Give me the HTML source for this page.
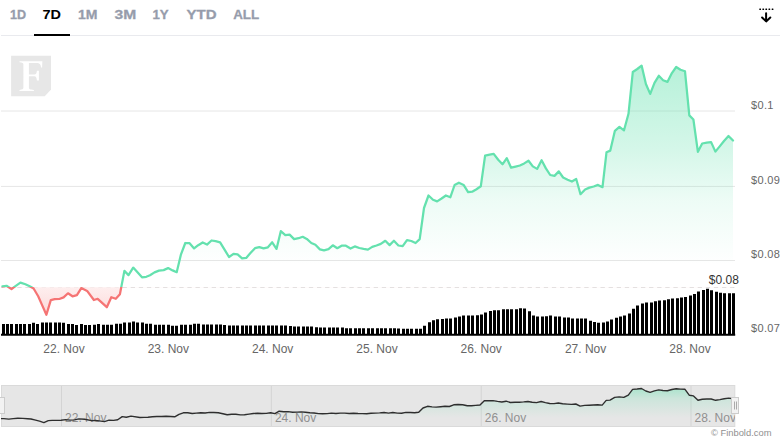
<!DOCTYPE html>
<html><head><meta charset="utf-8"><title>Chart</title>
<style>
html,body{margin:0;padding:0;background:#fff;}
body{width:780px;height:442px;overflow:hidden;position:relative;font-family:"Liberation Sans",sans-serif;}
svg{position:absolute;left:0;top:0;display:block}
svg text{font-family:"Liberation Sans",sans-serif;}
</style></head><body>
<svg width="780" height="442" viewBox="0 0 780 442">
<defs>
<linearGradient id="gg" gradientUnits="userSpaceOnUse" x1="0" y1="65" x2="0" y2="265">
<stop offset="0" stop-color="#64e1ae" stop-opacity="0.47"/><stop offset="0.425" stop-color="#64e1ae" stop-opacity="0.27"/><stop offset="0.675" stop-color="#64e1ae" stop-opacity="0.115"/><stop offset="1" stop-color="#64e1ae" stop-opacity="0"/></linearGradient>
<linearGradient id="rg" gradientUnits="userSpaceOnUse" x1="0" y1="287" x2="0" y2="315">
<stop offset="0" stop-color="#f57474" stop-opacity="0.12"/><stop offset="1" stop-color="#f57474" stop-opacity="0.27"/></linearGradient>
<linearGradient id="ng" gradientUnits="userSpaceOnUse" x1="0" y1="388" x2="0" y2="418">
<stop offset="0" stop-color="#64e1ae" stop-opacity="0.46"/><stop offset="0.35" stop-color="#64e1ae" stop-opacity="0.2"/><stop offset="1" stop-color="#64e1ae" stop-opacity="0"/></linearGradient>
<clipPath id="up"><rect x="0" y="36" width="736" height="251.3"/></clipPath>
<clipPath id="dn"><rect x="0" y="286.90000000000003" width="736" height="60"/></clipPath>
<clipPath id="nav"><rect x="1" y="386" width="734" height="40"/></clipPath>
</defs>
<!-- tabs -->
<path d="M1 35.5H780" stroke="#e9eaee" stroke-width="1"/>
<rect x="34" y="34" width="36" height="2" fill="#000"/>
<text x="9.9" y="19.4" textLength="16.1" lengthAdjust="spacingAndGlyphs" fill="#969cab" stroke="#969cab" stroke-width="0.3" font-weight="bold" font-size="13">1D</text><text x="42.5" y="19.4" textLength="18.5" lengthAdjust="spacingAndGlyphs" fill="#000" stroke="#000" stroke-width="0" font-weight="bold" font-size="13">7D</text><text x="78" y="19.4" textLength="19.5" lengthAdjust="spacingAndGlyphs" fill="#969cab" stroke="#969cab" stroke-width="0.3" font-weight="bold" font-size="13">1M</text><text x="114.6" y="19.4" textLength="21.7" lengthAdjust="spacingAndGlyphs" fill="#969cab" stroke="#969cab" stroke-width="0.3" font-weight="bold" font-size="13">3M</text><text x="152.4" y="19.4" textLength="16.2" lengthAdjust="spacingAndGlyphs" fill="#969cab" stroke="#969cab" stroke-width="0.3" font-weight="bold" font-size="13">1Y</text><text x="186.5" y="19.4" textLength="30.0" lengthAdjust="spacingAndGlyphs" fill="#969cab" stroke="#969cab" stroke-width="0.3" font-weight="bold" font-size="13">YTD</text><text x="233.2" y="19.4" textLength="26.0" lengthAdjust="spacingAndGlyphs" fill="#969cab" stroke="#969cab" stroke-width="0.3" font-weight="bold" font-size="13">ALL</text>
<!-- download icon -->
<g stroke="#000" stroke-width="2" fill="none" stroke-linecap="round" stroke-linejoin="round">
<path d="M766.1 13.2V21.2M762.1 17.5L766.1 21.4L770.3 17.5"/>
</g>
<g fill="#000"><rect x="759.3" y="8.4" width="1.7" height="1.7" rx="0.4"/><rect x="762.4" y="8.4" width="1.7" height="1.7" rx="0.4"/><rect x="765.4" y="8.4" width="1.7" height="1.7" rx="0.4"/><rect x="768.5" y="8.4" width="1.7" height="1.7" rx="0.4"/><rect x="771.7" y="8.4" width="1.7" height="1.7" rx="0.4"/></g>
<!-- watermark -->
<path d="M11.1 55.8H51V89.4L44.7 96.2H11.1Z" fill="#e7e7e7"/>
<path d="M19.5 61.2H42.35L42.1 67.5H41.1C40.6 64.6 39.8 63.2 37.8 63H28.9V74.5H34.3C36 74.5 36.6 73.4 36.9 70.7H38.9V80.4H36.9C36.6 77.5 36 76.3 34.3 76.2H28.9V87.5C28.9 89.1 30 89.6 33.9 89.9V91H19.5V89.9C22.5 89.6 23.4 89.1 23.4 87.5V64.6C23.4 63 22.5 62.6 19.5 62.3Z" fill="#fff"/>
<!-- grid -->
<path d="M1 111.0H735" stroke="#e6e6e6" stroke-width="1"/><path d="M1 186.4H735" stroke="#e6e6e6" stroke-width="1"/><path d="M1 260.5H735" stroke="#e6e6e6" stroke-width="1"/>
<!-- area -->
<path d="M1.1 287.5H735" stroke="#dadada" stroke-width="1" stroke-dasharray="4.3 3.8"/>
<g clip-path="url(#up)"><path d="M2.4 286.3 L6.5 285.8 L11.5 289.0 L15.8 285.8 L20.4 282.6 L25.4 284.3 L30.2 286.5 L33.6 288.5 L38.2 296.3 L42.0 304.9 L46.4 314.8 L50.8 300.1 L54.7 299.1 L59.3 299.0 L63.6 297.4 L68.0 293.3 L72.5 296.3 L76.9 295.2 L81.3 288.1 L87.1 290.9 L93.9 300.0 L97.7 298.8 L106.8 307.2 L111.3 297.2 L115.8 298.8 L119.9 294.3 L124.4 270.9 L128.5 275.1 L133.2 267.6 L142.0 277.3 L146.3 276.8 L150.0 275.3 L154.5 272.4 L159.0 270.6 L163.6 270.1 L168.1 268.1 L172.6 270.4 L176.7 272.2 L181.0 254.3 L185.3 243.0 L189.6 243.2 L194.1 248.4 L198.2 245.2 L202.7 242.5 L207.0 244.6 L211.5 240.5 L215.6 241.2 L220.1 242.3 L224.7 249.8 L229.0 257.0 L233.5 253.8 L237.6 254.3 L242.1 258.4 L246.2 257.9 L250.7 252.7 L255.0 248.2 L259.3 247.1 L263.6 248.4 L267.9 247.3 L272.2 242.3 L276.5 248.9 L280.8 231.2 L285.3 235.1 L289.6 234.6 L294.1 239.1 L298.6 238.2 L302.7 236.8 L306.8 238.9 L311.3 243.0 L315.4 244.8 L319.9 249.4 L324.0 250.3 L328.5 249.1 L332.8 245.3 L337.3 248.2 L341.6 245.7 L345.9 245.7 L350.5 248.5 L354.8 246.4 L359.3 248.0 L363.6 248.9 L367.9 249.6 L372.2 246.9 L376.5 245.5 L380.8 243.9 L385.3 240.8 L389.6 245.1 L393.9 240.8 L398.4 245.5 L402.7 246.2 L407.0 240.1 L411.3 241.0 L415.6 243.0 L419.7 239.2 L424.0 208.0 L428.5 195.5 L433.0 199.8 L437.1 201.4 L441.6 198.5 L445.9 195.5 L450.3 197.3 L454.6 185.0 L458.9 182.7 L463.6 184.9 L468.1 192.2 L472.2 191.7 L476.5 189.2 L480.8 186.3 L485.1 155.7 L489.6 154.6 L493.7 153.9 L498.2 159.8 L502.5 164.3 L506.8 158.2 L511.1 167.7 L515.6 166.6 L519.9 165.5 L524.2 163.4 L528.5 160.7 L532.8 166.4 L537.1 168.9 L541.6 160.3 L545.9 168.4 L550.2 175.0 L554.5 175.9 L558.8 171.4 L563.1 177.5 L567.6 179.7 L571.9 181.5 L576.2 179.0 L580.5 194.2 L585.1 189.5 L589.4 187.6 L593.7 186.5 L598.0 184.9 L602.5 187.2 L606.5 152.3 L610.3 150.6 L614.9 130.8 L619.4 126.9 L624.0 130.3 L628.5 113.8 L632.8 72.0 L637.3 69.0 L641.6 65.6 L645.9 84.0 L650.2 93.9 L654.5 82.8 L658.8 75.8 L663.1 80.3 L667.4 81.9 L671.9 73.1 L676.2 67.0 L680.5 69.7 L685.0 71.3 L689.3 115.4 L693.4 119.5 L697.9 151.8 L702.2 143.5 L706.8 142.6 L711.1 142.1 L715.4 151.6 L719.7 146.4 L724.0 141.0 L728.5 136.0 L733.0 140.5 L733.0 287.3 L2.4 287.3Z" fill="url(#gg)"/></g>
<g clip-path="url(#dn)"><path d="M2.4 286.3 L6.5 285.8 L11.5 289.0 L15.8 285.8 L20.4 282.6 L25.4 284.3 L30.2 286.5 L33.6 288.5 L38.2 296.3 L42.0 304.9 L46.4 314.8 L50.8 300.1 L54.7 299.1 L59.3 299.0 L63.6 297.4 L68.0 293.3 L72.5 296.3 L76.9 295.2 L81.3 288.1 L87.1 290.9 L93.9 300.0 L97.7 298.8 L106.8 307.2 L111.3 297.2 L115.8 298.8 L119.9 294.3 L124.4 270.9 L128.5 275.1 L133.2 267.6 L142.0 277.3 L146.3 276.8 L150.0 275.3 L154.5 272.4 L159.0 270.6 L163.6 270.1 L168.1 268.1 L172.6 270.4 L176.7 272.2 L181.0 254.3 L185.3 243.0 L189.6 243.2 L194.1 248.4 L198.2 245.2 L202.7 242.5 L207.0 244.6 L211.5 240.5 L215.6 241.2 L220.1 242.3 L224.7 249.8 L229.0 257.0 L233.5 253.8 L237.6 254.3 L242.1 258.4 L246.2 257.9 L250.7 252.7 L255.0 248.2 L259.3 247.1 L263.6 248.4 L267.9 247.3 L272.2 242.3 L276.5 248.9 L280.8 231.2 L285.3 235.1 L289.6 234.6 L294.1 239.1 L298.6 238.2 L302.7 236.8 L306.8 238.9 L311.3 243.0 L315.4 244.8 L319.9 249.4 L324.0 250.3 L328.5 249.1 L332.8 245.3 L337.3 248.2 L341.6 245.7 L345.9 245.7 L350.5 248.5 L354.8 246.4 L359.3 248.0 L363.6 248.9 L367.9 249.6 L372.2 246.9 L376.5 245.5 L380.8 243.9 L385.3 240.8 L389.6 245.1 L393.9 240.8 L398.4 245.5 L402.7 246.2 L407.0 240.1 L411.3 241.0 L415.6 243.0 L419.7 239.2 L424.0 208.0 L428.5 195.5 L433.0 199.8 L437.1 201.4 L441.6 198.5 L445.9 195.5 L450.3 197.3 L454.6 185.0 L458.9 182.7 L463.6 184.9 L468.1 192.2 L472.2 191.7 L476.5 189.2 L480.8 186.3 L485.1 155.7 L489.6 154.6 L493.7 153.9 L498.2 159.8 L502.5 164.3 L506.8 158.2 L511.1 167.7 L515.6 166.6 L519.9 165.5 L524.2 163.4 L528.5 160.7 L532.8 166.4 L537.1 168.9 L541.6 160.3 L545.9 168.4 L550.2 175.0 L554.5 175.9 L558.8 171.4 L563.1 177.5 L567.6 179.7 L571.9 181.5 L576.2 179.0 L580.5 194.2 L585.1 189.5 L589.4 187.6 L593.7 186.5 L598.0 184.9 L602.5 187.2 L606.5 152.3 L610.3 150.6 L614.9 130.8 L619.4 126.9 L624.0 130.3 L628.5 113.8 L632.8 72.0 L637.3 69.0 L641.6 65.6 L645.9 84.0 L650.2 93.9 L654.5 82.8 L658.8 75.8 L663.1 80.3 L667.4 81.9 L671.9 73.1 L676.2 67.0 L680.5 69.7 L685.0 71.3 L689.3 115.4 L693.4 119.5 L697.9 151.8 L702.2 143.5 L706.8 142.6 L711.1 142.1 L715.4 151.6 L719.7 146.4 L724.0 141.0 L728.5 136.0 L733.0 140.5 L733.0 287.3 L2.4 287.3Z" fill="#fff"/><path d="M2.4 286.3 L6.5 285.8 L11.5 289.0 L15.8 285.8 L20.4 282.6 L25.4 284.3 L30.2 286.5 L33.6 288.5 L38.2 296.3 L42.0 304.9 L46.4 314.8 L50.8 300.1 L54.7 299.1 L59.3 299.0 L63.6 297.4 L68.0 293.3 L72.5 296.3 L76.9 295.2 L81.3 288.1 L87.1 290.9 L93.9 300.0 L97.7 298.8 L106.8 307.2 L111.3 297.2 L115.8 298.8 L119.9 294.3 L124.4 270.9 L128.5 275.1 L133.2 267.6 L142.0 277.3 L146.3 276.8 L150.0 275.3 L154.5 272.4 L159.0 270.6 L163.6 270.1 L168.1 268.1 L172.6 270.4 L176.7 272.2 L181.0 254.3 L185.3 243.0 L189.6 243.2 L194.1 248.4 L198.2 245.2 L202.7 242.5 L207.0 244.6 L211.5 240.5 L215.6 241.2 L220.1 242.3 L224.7 249.8 L229.0 257.0 L233.5 253.8 L237.6 254.3 L242.1 258.4 L246.2 257.9 L250.7 252.7 L255.0 248.2 L259.3 247.1 L263.6 248.4 L267.9 247.3 L272.2 242.3 L276.5 248.9 L280.8 231.2 L285.3 235.1 L289.6 234.6 L294.1 239.1 L298.6 238.2 L302.7 236.8 L306.8 238.9 L311.3 243.0 L315.4 244.8 L319.9 249.4 L324.0 250.3 L328.5 249.1 L332.8 245.3 L337.3 248.2 L341.6 245.7 L345.9 245.7 L350.5 248.5 L354.8 246.4 L359.3 248.0 L363.6 248.9 L367.9 249.6 L372.2 246.9 L376.5 245.5 L380.8 243.9 L385.3 240.8 L389.6 245.1 L393.9 240.8 L398.4 245.5 L402.7 246.2 L407.0 240.1 L411.3 241.0 L415.6 243.0 L419.7 239.2 L424.0 208.0 L428.5 195.5 L433.0 199.8 L437.1 201.4 L441.6 198.5 L445.9 195.5 L450.3 197.3 L454.6 185.0 L458.9 182.7 L463.6 184.9 L468.1 192.2 L472.2 191.7 L476.5 189.2 L480.8 186.3 L485.1 155.7 L489.6 154.6 L493.7 153.9 L498.2 159.8 L502.5 164.3 L506.8 158.2 L511.1 167.7 L515.6 166.6 L519.9 165.5 L524.2 163.4 L528.5 160.7 L532.8 166.4 L537.1 168.9 L541.6 160.3 L545.9 168.4 L550.2 175.0 L554.5 175.9 L558.8 171.4 L563.1 177.5 L567.6 179.7 L571.9 181.5 L576.2 179.0 L580.5 194.2 L585.1 189.5 L589.4 187.6 L593.7 186.5 L598.0 184.9 L602.5 187.2 L606.5 152.3 L610.3 150.6 L614.9 130.8 L619.4 126.9 L624.0 130.3 L628.5 113.8 L632.8 72.0 L637.3 69.0 L641.6 65.6 L645.9 84.0 L650.2 93.9 L654.5 82.8 L658.8 75.8 L663.1 80.3 L667.4 81.9 L671.9 73.1 L676.2 67.0 L680.5 69.7 L685.0 71.3 L689.3 115.4 L693.4 119.5 L697.9 151.8 L702.2 143.5 L706.8 142.6 L711.1 142.1 L715.4 151.6 L719.7 146.4 L724.0 141.0 L728.5 136.0 L733.0 140.5 L733.0 287.3 L2.4 287.3Z" fill="url(#rg)"/></g>
<g clip-path="url(#up)"><path d="M2.4 286.3 L6.5 285.8 L11.5 289.0 L15.8 285.8 L20.4 282.6 L25.4 284.3 L30.2 286.5 L33.6 288.5 L38.2 296.3 L42.0 304.9 L46.4 314.8 L50.8 300.1 L54.7 299.1 L59.3 299.0 L63.6 297.4 L68.0 293.3 L72.5 296.3 L76.9 295.2 L81.3 288.1 L87.1 290.9 L93.9 300.0 L97.7 298.8 L106.8 307.2 L111.3 297.2 L115.8 298.8 L119.9 294.3 L124.4 270.9 L128.5 275.1 L133.2 267.6 L142.0 277.3 L146.3 276.8 L150.0 275.3 L154.5 272.4 L159.0 270.6 L163.6 270.1 L168.1 268.1 L172.6 270.4 L176.7 272.2 L181.0 254.3 L185.3 243.0 L189.6 243.2 L194.1 248.4 L198.2 245.2 L202.7 242.5 L207.0 244.6 L211.5 240.5 L215.6 241.2 L220.1 242.3 L224.7 249.8 L229.0 257.0 L233.5 253.8 L237.6 254.3 L242.1 258.4 L246.2 257.9 L250.7 252.7 L255.0 248.2 L259.3 247.1 L263.6 248.4 L267.9 247.3 L272.2 242.3 L276.5 248.9 L280.8 231.2 L285.3 235.1 L289.6 234.6 L294.1 239.1 L298.6 238.2 L302.7 236.8 L306.8 238.9 L311.3 243.0 L315.4 244.8 L319.9 249.4 L324.0 250.3 L328.5 249.1 L332.8 245.3 L337.3 248.2 L341.6 245.7 L345.9 245.7 L350.5 248.5 L354.8 246.4 L359.3 248.0 L363.6 248.9 L367.9 249.6 L372.2 246.9 L376.5 245.5 L380.8 243.9 L385.3 240.8 L389.6 245.1 L393.9 240.8 L398.4 245.5 L402.7 246.2 L407.0 240.1 L411.3 241.0 L415.6 243.0 L419.7 239.2 L424.0 208.0 L428.5 195.5 L433.0 199.8 L437.1 201.4 L441.6 198.5 L445.9 195.5 L450.3 197.3 L454.6 185.0 L458.9 182.7 L463.6 184.9 L468.1 192.2 L472.2 191.7 L476.5 189.2 L480.8 186.3 L485.1 155.7 L489.6 154.6 L493.7 153.9 L498.2 159.8 L502.5 164.3 L506.8 158.2 L511.1 167.7 L515.6 166.6 L519.9 165.5 L524.2 163.4 L528.5 160.7 L532.8 166.4 L537.1 168.9 L541.6 160.3 L545.9 168.4 L550.2 175.0 L554.5 175.9 L558.8 171.4 L563.1 177.5 L567.6 179.7 L571.9 181.5 L576.2 179.0 L580.5 194.2 L585.1 189.5 L589.4 187.6 L593.7 186.5 L598.0 184.9 L602.5 187.2 L606.5 152.3 L610.3 150.6 L614.9 130.8 L619.4 126.9 L624.0 130.3 L628.5 113.8 L632.8 72.0 L637.3 69.0 L641.6 65.6 L645.9 84.0 L650.2 93.9 L654.5 82.8 L658.8 75.8 L663.1 80.3 L667.4 81.9 L671.9 73.1 L676.2 67.0 L680.5 69.7 L685.0 71.3 L689.3 115.4 L693.4 119.5 L697.9 151.8 L702.2 143.5 L706.8 142.6 L711.1 142.1 L715.4 151.6 L719.7 146.4 L724.0 141.0 L728.5 136.0 L733.0 140.5" fill="none" stroke="#64e1ae" stroke-width="2.25" stroke-linejoin="round" stroke-linecap="round"/></g>
<g clip-path="url(#dn)"><path d="M2.4 286.3 L6.5 285.8 L11.5 289.0 L15.8 285.8 L20.4 282.6 L25.4 284.3 L30.2 286.5 L33.6 288.5 L38.2 296.3 L42.0 304.9 L46.4 314.8 L50.8 300.1 L54.7 299.1 L59.3 299.0 L63.6 297.4 L68.0 293.3 L72.5 296.3 L76.9 295.2 L81.3 288.1 L87.1 290.9 L93.9 300.0 L97.7 298.8 L106.8 307.2 L111.3 297.2 L115.8 298.8 L119.9 294.3 L124.4 270.9 L128.5 275.1 L133.2 267.6 L142.0 277.3 L146.3 276.8 L150.0 275.3 L154.5 272.4 L159.0 270.6 L163.6 270.1 L168.1 268.1 L172.6 270.4 L176.7 272.2 L181.0 254.3 L185.3 243.0 L189.6 243.2 L194.1 248.4 L198.2 245.2 L202.7 242.5 L207.0 244.6 L211.5 240.5 L215.6 241.2 L220.1 242.3 L224.7 249.8 L229.0 257.0 L233.5 253.8 L237.6 254.3 L242.1 258.4 L246.2 257.9 L250.7 252.7 L255.0 248.2 L259.3 247.1 L263.6 248.4 L267.9 247.3 L272.2 242.3 L276.5 248.9 L280.8 231.2 L285.3 235.1 L289.6 234.6 L294.1 239.1 L298.6 238.2 L302.7 236.8 L306.8 238.9 L311.3 243.0 L315.4 244.8 L319.9 249.4 L324.0 250.3 L328.5 249.1 L332.8 245.3 L337.3 248.2 L341.6 245.7 L345.9 245.7 L350.5 248.5 L354.8 246.4 L359.3 248.0 L363.6 248.9 L367.9 249.6 L372.2 246.9 L376.5 245.5 L380.8 243.9 L385.3 240.8 L389.6 245.1 L393.9 240.8 L398.4 245.5 L402.7 246.2 L407.0 240.1 L411.3 241.0 L415.6 243.0 L419.7 239.2 L424.0 208.0 L428.5 195.5 L433.0 199.8 L437.1 201.4 L441.6 198.5 L445.9 195.5 L450.3 197.3 L454.6 185.0 L458.9 182.7 L463.6 184.9 L468.1 192.2 L472.2 191.7 L476.5 189.2 L480.8 186.3 L485.1 155.7 L489.6 154.6 L493.7 153.9 L498.2 159.8 L502.5 164.3 L506.8 158.2 L511.1 167.7 L515.6 166.6 L519.9 165.5 L524.2 163.4 L528.5 160.7 L532.8 166.4 L537.1 168.9 L541.6 160.3 L545.9 168.4 L550.2 175.0 L554.5 175.9 L558.8 171.4 L563.1 177.5 L567.6 179.7 L571.9 181.5 L576.2 179.0 L580.5 194.2 L585.1 189.5 L589.4 187.6 L593.7 186.5 L598.0 184.9 L602.5 187.2 L606.5 152.3 L610.3 150.6 L614.9 130.8 L619.4 126.9 L624.0 130.3 L628.5 113.8 L632.8 72.0 L637.3 69.0 L641.6 65.6 L645.9 84.0 L650.2 93.9 L654.5 82.8 L658.8 75.8 L663.1 80.3 L667.4 81.9 L671.9 73.1 L676.2 67.0 L680.5 69.7 L685.0 71.3 L689.3 115.4 L693.4 119.5 L697.9 151.8 L702.2 143.5 L706.8 142.6 L711.1 142.1 L715.4 151.6 L719.7 146.4 L724.0 141.0 L728.5 136.0 L733.0 140.5" fill="none" stroke="#f57474" stroke-width="2.25" stroke-linejoin="round" stroke-linecap="round"/></g>
<!-- volume -->
<path d="M2 335.0V324.0h3V335.0zM6 335.0V324.0h3V335.0zM10 335.0V324.0h3V335.0zM15 335.0V324.0h3V335.0zM19 335.0V324.0h3V335.0zM23 335.0V324.0h3V335.0zM28 335.0V324.0h3V335.0zM32 335.0V322.8h3V335.0zM36 335.0V324.0h3V335.0zM41 335.0V322.5h3V335.0zM45 335.0V322.5h3V335.0zM49 335.0V322.5h3V335.0zM54 335.0V322.5h3V335.0zM58 335.0V322.5h3V335.0zM62 335.0V322.8h3V335.0zM67 335.0V324.0h3V335.0zM71 335.0V324.0h3V335.0zM75 335.0V325.0h3V335.0zM80 335.0V324.0h3V335.0zM84 335.0V325.0h3V335.0zM88 335.0V325.0h3V335.0zM93 335.0V324.8h3V335.0zM97 335.0V324.0h3V335.0zM102 335.0V324.7h3V335.0zM106 335.0V324.7h3V335.0zM110 335.0V324.7h3V335.0zM115 335.0V323.7h3V335.0zM119 335.0V323.7h3V335.0zM123 335.0V322.4h3V335.0zM128 335.0V322.4h3V335.0zM132 335.0V321.4h3V335.0zM136 335.0V322.4h3V335.0zM141 335.0V322.4h3V335.0zM145 335.0V323.7h3V335.0zM149 335.0V323.7h3V335.0zM154 335.0V324.7h3V335.0zM158 335.0V324.7h3V335.0zM162 335.0V324.7h3V335.0zM167 335.0V324.7h3V335.0zM171 335.0V325.7h3V335.0zM175 335.0V325.7h3V335.0zM180 335.0V324.7h3V335.0zM184 335.0V324.7h3V335.0zM189 335.0V324.7h3V335.0zM193 335.0V323.7h3V335.0zM197 335.0V323.7h3V335.0zM202 335.0V324.4h3V335.0zM206 335.0V324.4h3V335.0zM210 335.0V324.4h3V335.0zM215 335.0V324.4h3V335.0zM219 335.0V324.4h3V335.0zM223 335.0V325.0h3V335.0zM228 335.0V325.4h3V335.0zM232 335.0V325.4h3V335.0zM236 335.0V325.4h3V335.0zM241 335.0V325.4h3V335.0zM245 335.0V325.4h3V335.0zM249 335.0V325.4h3V335.0zM254 335.0V325.4h3V335.0zM258 335.0V325.4h3V335.0zM262 335.0V325.4h3V335.0zM267 335.0V325.4h3V335.0zM271 335.0V325.4h3V335.0zM275 335.0V325.4h3V335.0zM280 335.0V325.4h3V335.0zM284 335.0V325.4h3V335.0zM289 335.0V326.0h3V335.0zM293 335.0V326.4h3V335.0zM297 335.0V326.4h3V335.0zM302 335.0V326.4h3V335.0zM306 335.0V326.4h3V335.0zM310 335.0V326.4h3V335.0zM315 335.0V327.3h3V335.0zM319 335.0V327.4h3V335.0zM323 335.0V327.4h3V335.0zM328 335.0V327.4h3V335.0zM332 335.0V327.4h3V335.0zM336 335.0V327.4h3V335.0zM341 335.0V327.4h3V335.0zM345 335.0V328.2h3V335.0zM349 335.0V328.2h3V335.0zM354 335.0V328.2h3V335.0zM358 335.0V328.2h3V335.0zM362 335.0V328.2h3V335.0zM367 335.0V328.2h3V335.0zM371 335.0V328.2h3V335.0zM376 335.0V328.2h3V335.0zM380 335.0V328.2h3V335.0zM384 335.0V328.2h3V335.0zM389 335.0V328.2h3V335.0zM393 335.0V328.2h3V335.0zM397 335.0V328.4h3V335.0zM402 335.0V328.7h3V335.0zM406 335.0V328.7h3V335.0zM410 335.0V328.7h3V335.0zM415 335.0V328.7h3V335.0zM419 335.0V328.7h3V335.0zM423 335.0V325.8h3V335.0zM428 335.0V322.2h3V335.0zM432 335.0V320.2h3V335.0zM436 335.0V319.2h3V335.0zM441 335.0V319.1h3V335.0zM445 335.0V318.5h3V335.0zM449 335.0V318.4h3V335.0zM454 335.0V317.5h3V335.0zM458 335.0V316.5h3V335.0zM462 335.0V315.4h3V335.0zM467 335.0V315.4h3V335.0zM471 335.0V315.4h3V335.0zM476 335.0V315.3h3V335.0zM480 335.0V314.4h3V335.0zM484 335.0V312.5h3V335.0zM489 335.0V311.1h3V335.0zM493 335.0V310.3h3V335.0zM497 335.0V310.2h3V335.0zM502 335.0V309.2h3V335.0zM506 335.0V309.2h3V335.0zM510 335.0V309.2h3V335.0zM515 335.0V309.2h3V335.0zM519 335.0V308.2h3V335.0zM523 335.0V308.4h3V335.0zM528 335.0V311.2h3V335.0zM532 335.0V315.6h3V335.0zM536 335.0V316.4h3V335.0zM541 335.0V316.4h3V335.0zM545 335.0V316.2h3V335.0zM549 335.0V315.6h3V335.0zM554 335.0V316.4h3V335.0zM558 335.0V316.5h3V335.0zM563 335.0V317.4h3V335.0zM567 335.0V317.6h3V335.0zM571 335.0V318.5h3V335.0zM576 335.0V318.5h3V335.0zM580 335.0V318.5h3V335.0zM584 335.0V318.6h3V335.0zM589 335.0V320.8h3V335.0zM593 335.0V322.0h3V335.0zM597 335.0V322.8h3V335.0zM602 335.0V322.5h3V335.0zM606 335.0V321.4h3V335.0zM610 335.0V319.5h3V335.0zM615 335.0V317.8h3V335.0zM619 335.0V316.4h3V335.0zM623 335.0V315.4h3V335.0zM628 335.0V313.4h3V335.0zM632 335.0V308.8h3V335.0zM636 335.0V305.5h3V335.0zM641 335.0V303.6h3V335.0zM645 335.0V302.6h3V335.0zM650 335.0V302.4h3V335.0zM654 335.0V301.3h3V335.0zM658 335.0V300.5h3V335.0zM663 335.0V300.2h3V335.0zM667 335.0V299.3h3V335.0zM671 335.0V298.5h3V335.0zM676 335.0V298.3h3V335.0zM680 335.0V297.4h3V335.0zM684 335.0V296.9h3V335.0zM689 335.0V295.4h3V335.0zM693 335.0V294.0h3V335.0zM697 335.0V291.5h3V335.0zM702 335.0V290.0h3V335.0zM706 335.0V288.7h3V335.0zM710 335.0V290.3h3V335.0zM715 335.0V291.7h3V335.0zM719 335.0V292.7h3V335.0zM723 335.0V293.3h3V335.0zM728 335.0V293.3h3V335.0zM732 335.0V293.3h3V335.0z" fill="#000"/>
<path d="M1 334.7H735.2" stroke="#000" stroke-width="2"/>
<!-- labels -->
<text x="64.0" y="353" text-anchor="middle" fill="#666" font-size="12">22. Nov</text><text x="168.35" y="353" text-anchor="middle" fill="#666" font-size="12">23. Nov</text><text x="272.7" y="353" text-anchor="middle" fill="#666" font-size="12">24. Nov</text><text x="377.0" y="353" text-anchor="middle" fill="#666" font-size="12">25. Nov</text><text x="481.2" y="353" text-anchor="middle" fill="#666" font-size="12">26. Nov</text><text x="585.6" y="353" text-anchor="middle" fill="#666" font-size="12">27. Nov</text><text x="690.0" y="353" text-anchor="middle" fill="#666" font-size="12">28. Nov</text>
<text x="751.1" y="108.7" fill="#666" font-size="11" letter-spacing="0.3">$0.1</text><text x="751.1" y="184.3" fill="#666" font-size="11" letter-spacing="0.3">$0.09</text><text x="751.1" y="257.8" fill="#666" font-size="11" letter-spacing="0.3">$0.08</text><text x="751.1" y="332.3" fill="#666" font-size="11" letter-spacing="0.3">$0.07</text>
<text x="708.8" y="284.4" fill="#333" font-size="12">$0.08</text>
<!-- navigator -->
<rect x="1.5" y="385.5" width="733.3" height="41" fill="#e6e6e6" stroke="#dadada" stroke-width="1"/>
<path d="M61.5 386V426" stroke="#d4d4d4" stroke-width="1"/><path d="M271.3 386V426" stroke="#d4d4d4" stroke-width="1"/><path d="M481.2 386V426" stroke="#d4d4d4" stroke-width="1"/><path d="M691.0 386V426" stroke="#d4d4d4" stroke-width="1"/>
<g clip-path="url(#nav)">
<path d="M-0.3 418.7 L3.8 418.6 L8.8 419.1 L13.2 418.6 L17.8 418.2 L22.8 418.4 L27.6 418.7 L31.0 419.0 L35.6 420.1 L39.5 421.2 L43.9 422.6 L48.3 420.6 L52.2 420.4 L56.8 420.4 L61.1 420.2 L65.6 419.6 L70.1 420.1 L74.5 419.9 L78.9 418.9 L84.7 419.3 L91.6 420.6 L95.4 420.4 L104.5 421.6 L109.0 420.2 L113.6 420.4 L117.7 419.8 L122.2 416.6 L126.3 417.2 L131.0 416.1 L139.9 417.5 L144.2 417.4 L147.9 417.2 L152.4 416.8 L156.9 416.5 L161.5 416.5 L166.1 416.2 L170.6 416.5 L174.7 416.8 L179.0 414.3 L183.3 412.8 L187.7 412.8 L192.2 413.5 L196.3 413.1 L200.8 412.7 L205.1 413.0 L209.6 412.4 L213.8 412.5 L218.3 412.7 L222.9 413.7 L227.2 414.7 L231.7 414.2 L235.8 414.3 L240.4 414.9 L244.5 414.8 L249.0 414.1 L253.3 413.5 L257.6 413.3 L261.9 413.5 L266.3 413.4 L270.6 412.7 L274.9 413.6 L279.2 411.2 L283.7 411.7 L288.1 411.6 L292.6 412.2 L297.1 412.1 L301.2 411.9 L305.3 412.2 L309.8 412.8 L314.0 413.0 L318.5 413.6 L322.6 413.8 L327.1 413.6 L331.4 413.1 L335.9 413.5 L340.3 413.1 L344.6 413.1 L349.2 413.5 L353.5 413.2 L358.0 413.5 L362.3 413.6 L366.7 413.7 L371.0 413.3 L375.3 413.1 L379.6 412.9 L384.1 412.5 L388.5 413.1 L392.8 412.5 L397.3 413.1 L401.6 413.2 L405.9 412.4 L410.2 412.5 L414.6 412.8 L418.7 412.2 L423.0 408.0 L427.5 406.3 L432.0 406.9 L436.1 407.1 L440.7 406.7 L445.0 406.3 L449.4 406.5 L453.7 404.8 L458.0 404.5 L462.7 404.8 L467.3 405.8 L471.4 405.8 L475.7 405.4 L480.0 405.0 L484.3 400.8 L488.9 400.7 L493.0 400.6 L497.5 401.4 L501.8 402.0 L506.1 401.2 L510.4 402.5 L515.0 402.3 L519.3 402.2 L523.6 401.9 L527.9 401.5 L532.2 402.3 L536.5 402.6 L541.1 401.5 L545.4 402.6 L549.7 403.5 L554.0 403.6 L558.3 403.0 L562.6 403.8 L567.2 404.1 L571.5 404.4 L575.8 404.0 L580.1 406.1 L584.7 405.4 L589.1 405.2 L593.4 405.0 L597.7 404.8 L602.2 405.1 L606.2 400.4 L610.0 400.1 L614.7 397.4 L619.2 396.9 L623.8 397.4 L628.3 395.1 L632.6 389.4 L637.1 389.0 L641.5 388.5 L645.8 391.0 L650.1 392.4 L654.4 390.9 L658.7 389.9 L663.0 390.5 L667.4 390.7 L671.9 389.5 L676.2 388.7 L680.5 389.1 L685.0 389.3 L689.4 395.3 L693.5 395.9 L698.0 400.3 L702.3 399.2 L706.9 399.0 L711.2 399.0 L715.6 400.3 L719.9 399.6 L724.2 398.8 L728.7 398.1 L733.2 398.7 L733.2 426 L-0.3 426Z" fill="url(#ng)"/>
<text x="65.1" y="421.5" fill="#909090" font-size="12">22. Nov</text><text x="274.90000000000003" y="421.5" fill="#909090" font-size="12">24. Nov</text><text x="484.8" y="421.5" fill="#909090" font-size="12">26. Nov</text><text x="694.6" y="421.5" fill="#909090" font-size="12">28. Nov</text>
<path d="M-0.3 418.7 L3.8 418.6 L8.8 419.1 L13.2 418.6 L17.8 418.2 L22.8 418.4 L27.6 418.7 L31.0 419.0 L35.6 420.1 L39.5 421.2 L43.9 422.6 L48.3 420.6 L52.2 420.4 L56.8 420.4 L61.1 420.2 L65.6 419.6 L70.1 420.1 L74.5 419.9 L78.9 418.9 L84.7 419.3 L91.6 420.6 L95.4 420.4 L104.5 421.6 L109.0 420.2 L113.6 420.4 L117.7 419.8 L122.2 416.6 L126.3 417.2 L131.0 416.1 L139.9 417.5 L144.2 417.4 L147.9 417.2 L152.4 416.8 L156.9 416.5 L161.5 416.5 L166.1 416.2 L170.6 416.5 L174.7 416.8 L179.0 414.3 L183.3 412.8 L187.7 412.8 L192.2 413.5 L196.3 413.1 L200.8 412.7 L205.1 413.0 L209.6 412.4 L213.8 412.5 L218.3 412.7 L222.9 413.7 L227.2 414.7 L231.7 414.2 L235.8 414.3 L240.4 414.9 L244.5 414.8 L249.0 414.1 L253.3 413.5 L257.6 413.3 L261.9 413.5 L266.3 413.4 L270.6 412.7 L274.9 413.6 L279.2 411.2 L283.7 411.7 L288.1 411.6 L292.6 412.2 L297.1 412.1 L301.2 411.9 L305.3 412.2 L309.8 412.8 L314.0 413.0 L318.5 413.6 L322.6 413.8 L327.1 413.6 L331.4 413.1 L335.9 413.5 L340.3 413.1 L344.6 413.1 L349.2 413.5 L353.5 413.2 L358.0 413.5 L362.3 413.6 L366.7 413.7 L371.0 413.3 L375.3 413.1 L379.6 412.9 L384.1 412.5 L388.5 413.1 L392.8 412.5 L397.3 413.1 L401.6 413.2 L405.9 412.4 L410.2 412.5 L414.6 412.8 L418.7 412.2 L423.0 408.0 L427.5 406.3 L432.0 406.9 L436.1 407.1 L440.7 406.7 L445.0 406.3 L449.4 406.5 L453.7 404.8 L458.0 404.5 L462.7 404.8 L467.3 405.8 L471.4 405.8 L475.7 405.4 L480.0 405.0 L484.3 400.8 L488.9 400.7 L493.0 400.6 L497.5 401.4 L501.8 402.0 L506.1 401.2 L510.4 402.5 L515.0 402.3 L519.3 402.2 L523.6 401.9 L527.9 401.5 L532.2 402.3 L536.5 402.6 L541.1 401.5 L545.4 402.6 L549.7 403.5 L554.0 403.6 L558.3 403.0 L562.6 403.8 L567.2 404.1 L571.5 404.4 L575.8 404.0 L580.1 406.1 L584.7 405.4 L589.1 405.2 L593.4 405.0 L597.7 404.8 L602.2 405.1 L606.2 400.4 L610.0 400.1 L614.7 397.4 L619.2 396.9 L623.8 397.4 L628.3 395.1 L632.6 389.4 L637.1 389.0 L641.5 388.5 L645.8 391.0 L650.1 392.4 L654.4 390.9 L658.7 389.9 L663.0 390.5 L667.4 390.7 L671.9 389.5 L676.2 388.7 L680.5 389.1 L685.0 389.3 L689.4 395.3 L693.5 395.9 L698.0 400.3 L702.3 399.2 L706.9 399.0 L711.2 399.0 L715.6 400.3 L719.9 399.6 L724.2 398.8 L728.7 398.1 L733.2 398.7" fill="none" stroke="#2e2e2e" stroke-width="1.4" stroke-linejoin="round"/>
</g>
<!-- handles -->
<g>
<rect x="-3.5" y="397.5" width="8" height="16" fill="#f2f2f2" stroke="#ccc" stroke-width="1"/>
<rect x="731.5" y="397.5" width="7" height="16" fill="#f2f2f2" stroke="#ccc" stroke-width="1"/>
<path d="M734.5 401.5V409.5M736.5 401.5V409.5" stroke="#aaa" stroke-width="1"/>
</g>
<text x="710.9" y="436" fill="#909090" font-size="9.4">© Finbold.com</text>
</svg>
</body></html>
